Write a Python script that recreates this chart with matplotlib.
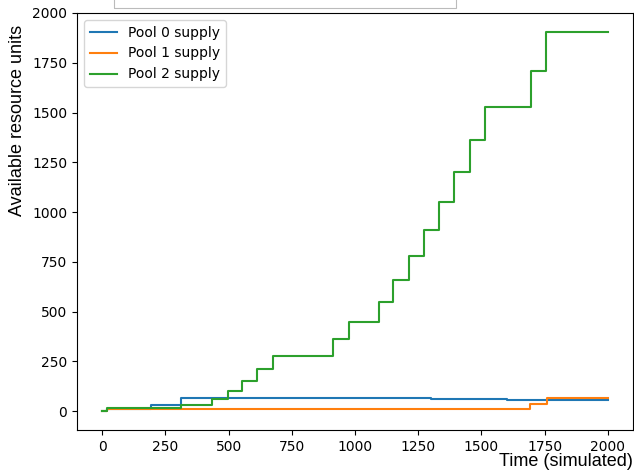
import matplotlib
matplotlib.use("Agg")
import matplotlib.pyplot as plt
from matplotlib.patches import Rectangle

# step data: (time, value) pairs, held until next time
pool0_t = [0, 20, 194, 312, 700, 1000, 1300, 1420, 1600, 1745, 2000]
pool0_v = [0, 12, 33, 65, 64, 64, 62, 60, 58, 55, 55]

pool1_t = [0, 20, 1692, 1758, 2000]
pool1_v = [0, 12, 35, 65, 65]

pool2_t = [0, 20, 312, 435, 497, 553, 613, 676, 913, 976, 1095, 1150,
           1213, 1273, 1332, 1391, 1455, 1514, 1696, 1755, 2000]
pool2_v = [0, 14, 30, 60, 100, 150, 210, 278, 360, 450, 550, 660,
           780, 910, 1050, 1200, 1360, 1530, 1710, 1905, 1905]

fig = plt.figure(figsize=(6.34, 4.75), dpi=100)
ax = fig.add_axes([77 / 634, 45 / 475, 556 / 634, 417 / 475])

ax.plot(pool0_t, pool0_v, drawstyle="steps-post", label="Pool 0 supply")
ax.plot(pool1_t, pool1_v, drawstyle="steps-post", label="Pool 1 supply")
ax.plot(pool2_t, pool2_v, drawstyle="steps-post", label="Pool 2 supply")

ax.set_xticks([0, 250, 500, 750, 1000, 1250, 1500, 1750, 2000])
ax.set_yticks([0, 250, 500, 750, 1000, 1250, 1500, 1750, 2000])
ax.set_ylim(-95, 2000)
ax.legend(loc="upper left")

# labels sit outside in a different font
fig.text(18 / 634, 1 - 120 / 475, "Available resource units", rotation=90,
         ha="center", va="center", fontsize=13, family="Liberation Sans")
fig.text(633 / 634, 1 - 462 / 475, "Time (simulated)", ha="right",
         va="center", fontsize=13, family="Liberation Sans")

# faint box remnant at the top
fig.add_artist(Rectangle((114 / 634, 1 - 8 / 475), 342 / 634, 20 / 475,
                         transform=fig.transFigure, fill=False,
                         edgecolor="#bbbbbb", linewidth=0.8))

fig.savefig("out.png", dpi=100)
